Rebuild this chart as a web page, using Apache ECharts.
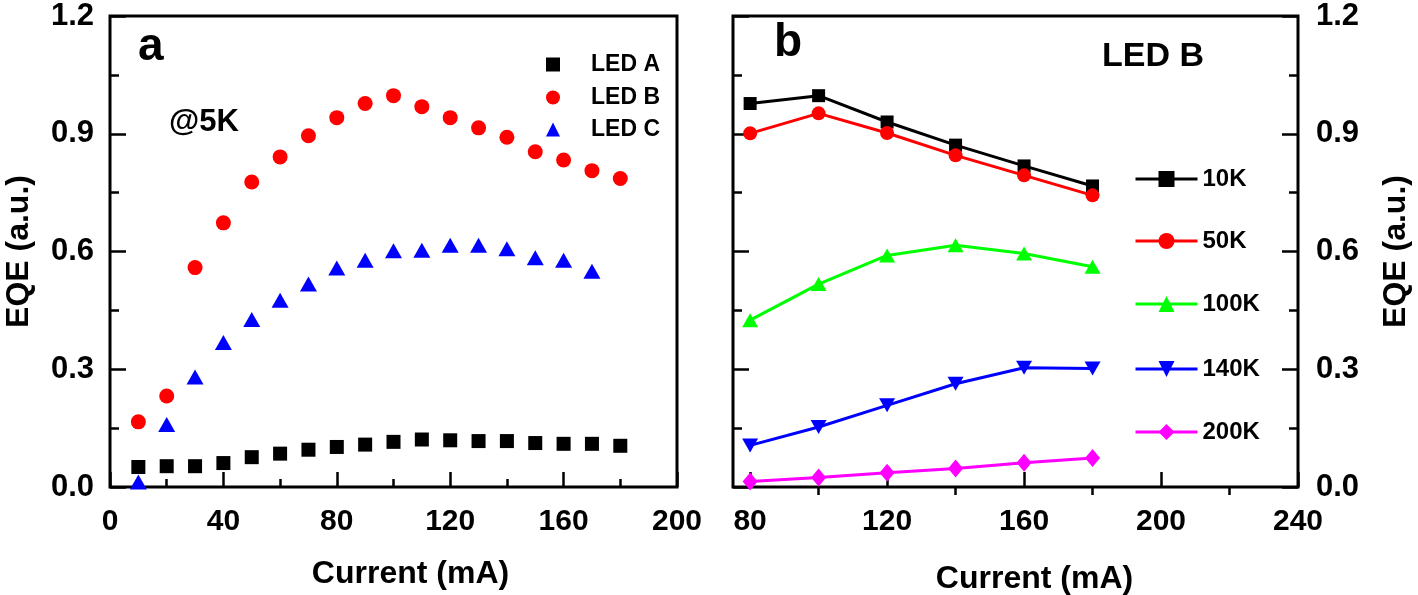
<!DOCTYPE html>
<html>
<head>
<meta charset="utf-8">
<script src="https://cdn.jsdelivr.net/npm/echarts@6/dist/echarts.min.js"></script>
<style>
html,body{margin:0;padding:0;background:#fff;}
#c{width:1418px;height:595px;}
</style>
</head>
<body>
<div id="c"></div>
<script>
// Panel a (@5K)
const currentA = [10,20,30,40,50,60,70,80,90,100,110,120,130,140,150,160,170,180];
const ledA = [0.051,0.053,0.053,0.061,0.076,0.085,0.095,0.102,0.108,0.115,0.121,0.119,0.117,0.117,0.112,0.110,0.110,0.105];
const ledB = [0.166,0.232,0.559,0.673,0.777,0.841,0.895,0.941,0.977,0.997,0.969,0.941,0.915,0.891,0.854,0.833,0.806,0.786];
const currentC = [10,20,30,40,50,60,70,80,90,100,110,120,130,140,150,160,170];
const ledC = [0.013,0.159,0.280,0.368,0.427,0.476,0.517,0.558,0.578,0.602,0.603,0.616,0.616,0.607,0.584,0.578,0.550];
// Panel b (LED B vs temperature)
const currentB = [80,100,120,140,160,180];
const t10K = [0.977,0.997,0.930,0.871,0.818,0.767];
const t50K = [0.901,0.952,0.902,0.845,0.794,0.743];
const t100K = [0.425,0.517,0.590,0.616,0.595,0.561];
const t140K = [0.106,0.153,0.208,0.263,0.304,0.302];
const t200K = [0.014,0.024,0.036,0.047,0.062,0.074];
const tempNames = ['10K','50K','100K','140K','200K'];
const ledNames = ['LED A','LED B','LED C'];
const xLabelsB = [80,120,160,200,240];
const xMinorB = [100,140,180,220];

const FONT = "'Liberation Sans', Arial, sans-serif";
const pair = (xs, ys) => xs.map((x,i)=>[x, ys[i]]);
const downTri = 'path://M0,0 L10,0 L5,9 Z';

const gridA = {left:110, right:741, top:16, bottom:108, show:true, borderColor:'#000', borderWidth:3, backgroundColor:'transparent', outerBoundsMode:'none', containLabel:false};
const gridB = {left:733, right:120, top:16, bottom:108, show:true, borderColor:'#000', borderWidth:3, backgroundColor:'transparent', outerBoundsMode:'none', containLabel:false};

const yLbl = {color:'#000', fontFamily:FONT, fontWeight:'bold', fontSize:31};
const xLbl = {color:'#000', fontFamily:FONT, fontWeight:'bold', fontSize:30};
const nameStyle = {color:'#000', fontFamily:FONT, fontWeight:'bold', fontSize:32};

const option = {
  animation:false,
  backgroundColor:'#fff',
  grid:[gridA, gridB],
  xAxis:[
    {gridIndex:0, type:'value', min:0, max:200, interval:40,
     axisLine:{show:false}, splitLine:{show:false},
     axisTick:{inside:true, length:15, lineStyle:{color:'#000', width:2.5}},
     minorTick:{show:true, splitNumber:2, length:8, lineStyle:{color:'#000', width:2.5}},
     axisLabel:Object.assign({margin:20}, xLbl),
     name:'Current (mA)', nameLocation:'middle', nameGap:71,
     nameTextStyle:Object.assign({padding:[0,0,0,34]}, nameStyle)},
    {gridIndex:1, type:'value', min:75, max:240,
     axisLine:{show:false}, splitLine:{show:false},
     axisTick:{inside:true, length:15, customValues:xLabelsB, lineStyle:{color:'#000', width:2.5}},
     axisLabel:Object.assign({margin:20, customValues:xLabelsB}, xLbl),
     name:'Current (mA)', nameLocation:'middle', nameGap:76,
     nameTextStyle:Object.assign({padding:[0,0,0,38]}, nameStyle)},
    {gridIndex:1, type:'value', min:75, max:240,
     axisLine:{show:false}, splitLine:{show:false},
     axisTick:{inside:true, length:8, customValues:xMinorB, lineStyle:{color:'#000', width:2.5}},
     axisLabel:{show:false}}
  ],
  yAxis:[
    {gridIndex:0, type:'value', min:0, max:1.2, interval:0.3,
     axisLine:{show:false}, splitLine:{show:false},
     axisTick:{inside:true, length:16, lineStyle:{color:'#000', width:2.5}},
     minorTick:{show:true, splitNumber:2, length:9, lineStyle:{color:'#000', width:2.5}},
     axisLabel:Object.assign({margin:16, formatter:v=>v.toFixed(1)}, yLbl),
     name:'EQE (a.u.)', nameLocation:'middle', nameGap:75, nameRotate:90, nameTextStyle:nameStyle},
    {gridIndex:1, type:'value', min:0, max:1.2, interval:0.3, position:'left',
     axisLine:{show:false}, splitLine:{show:false},
     axisTick:{inside:true, length:16, lineStyle:{color:'#000', width:2.5}},
     minorTick:{show:true, splitNumber:2, length:9, lineStyle:{color:'#000', width:2.5}},
     axisLabel:{show:false}},
    {gridIndex:1, type:'value', min:0, max:1.2, interval:0.3, position:'right',
     axisLine:{show:false}, splitLine:{show:false},
     axisTick:{inside:true, length:16, lineStyle:{color:'#000', width:2.5}},
     minorTick:{show:true, splitNumber:2, length:9, lineStyle:{color:'#000', width:2.5}},
     axisLabel:Object.assign({margin:18, formatter:v=>v.toFixed(1)}, yLbl),
     name:'EQE (a.u.)', nameLocation:'middle', nameGap:82, nameRotate:90, nameTextStyle:nameStyle}
  ],
  legend:[],
  graphic:[
    {type:'text', left:138, top:24, style:{text:'a', fill:'#000', font:'bold 46px '+FONT}},
    {type:'text', left:169, top:107, style:{text:'@5K', fill:'#000', font:'bold 31px '+FONT}},
    {type:'text', left:774, top:20, style:{text:'b', fill:'#000', font:'bold 46px '+FONT}},
    {type:'text', left:1102, top:40, style:{text:'LED B', fill:'#000', font:'bold 34px '+FONT}}
  ],
  series:[
    {name:ledNames[0], type:'scatter', xAxisIndex:0, yAxisIndex:0, data:pair(currentA, ledA),
     symbol:'rect', symbolSize:14, itemStyle:{color:'#000', opacity:1}},
    {name:ledNames[1], type:'scatter', xAxisIndex:0, yAxisIndex:0, data:pair(currentA, ledB),
     symbol:'circle', symbolSize:15, itemStyle:{color:'#ff0000', opacity:1}},
    {name:ledNames[2], type:'scatter', xAxisIndex:0, yAxisIndex:0, data:pair(currentC, ledC),
     symbol:'triangle', symbolSize:[17,15], itemStyle:{color:'#0000ff', opacity:1}},
    {name:tempNames[0], type:'line', xAxisIndex:1, yAxisIndex:2, data:pair(currentB, t10K),
     symbol:'rect', symbolSize:13, lineStyle:{color:'#000', width:3}, itemStyle:{color:'#000'}},
    {name:tempNames[1], type:'line', xAxisIndex:1, yAxisIndex:2, data:pair(currentB, t50K),
     symbol:'circle', symbolSize:14, lineStyle:{color:'#ff0000', width:3}, itemStyle:{color:'#ff0000'}},
    {name:tempNames[2], type:'line', xAxisIndex:1, yAxisIndex:2, data:pair(currentB, t100K),
     symbol:'triangle', symbolSize:[16,14], lineStyle:{color:'#00ff00', width:3}, itemStyle:{color:'#00ff00'}},
    {name:tempNames[3], type:'line', xAxisIndex:1, yAxisIndex:2, data:pair(currentB, t140K),
     symbol:downTri, symbolSize:[16,14], lineStyle:{color:'#0000ff', width:3}, itemStyle:{color:'#0000ff'}},
    {name:tempNames[4], type:'line', xAxisIndex:1, yAxisIndex:2, data:pair(currentB, t200K),
     symbol:'diamond', symbolSize:[15,18], lineStyle:{color:'#ff00ff', width:3}, itemStyle:{color:'#ff00ff'}}
  ]
};

const legTxt = {color:'#000', fontFamily:FONT, fontWeight:'bold', fontSize:23};
const ledY = [55, 88, 120];
ledNames.forEach((n,i)=>{
  option.legend.push({data:[n], orient:'vertical', left:541, top:ledY[i]-7, itemWidth:14, itemHeight:14,
    selectedMode:false, itemStyle:{opacity:1}, textStyle:Object.assign({padding:[0,0,0,26]}, legTxt)});
});
const tY = [172, 234, 297, 362, 425];
tempNames.forEach((n,i)=>{
  option.legend.push({data:[n], orient:'vertical', left:1129, top:tY[i]-10, itemWidth:62, itemHeight:20,
    selectedMode:false, lineStyle:{width:3}, textStyle:Object.assign({}, legTxt, {fontSize:24})});
});

const chart = echarts.init(document.getElementById('c'), null, {renderer:'canvas'});
chart.setOption(option);
</script>
</body>
</html>
